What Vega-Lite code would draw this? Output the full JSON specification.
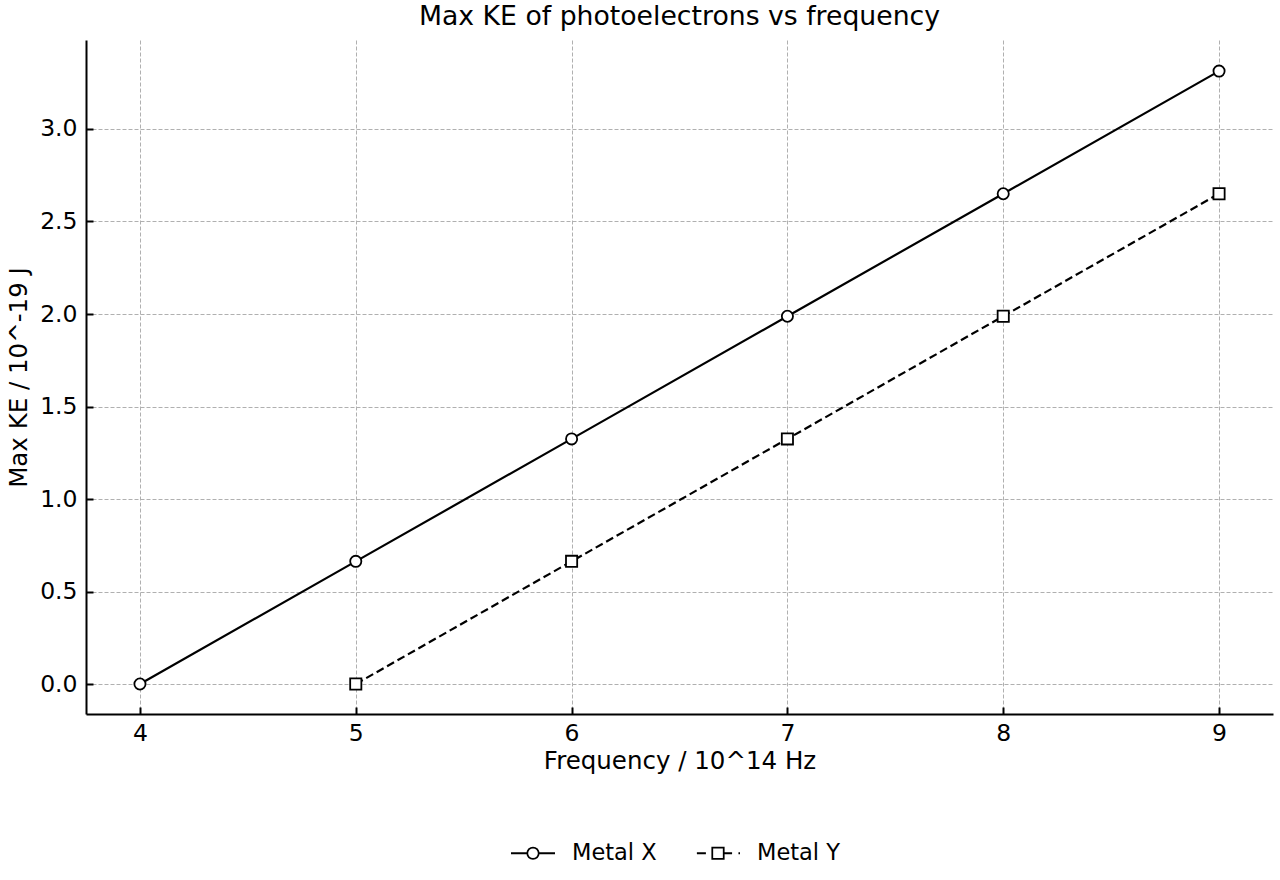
{
  "$schema": "https://vega.github.io/schema/vega-lite/v6.json",
  "width": 1187,
  "height": 674,
  "autosize": {"type": "none"},
  "padding": {"left": 86, "top": 40, "right": 7, "bottom": 166},
  "background": "white",
  "config": {
    "font": "DejaVu Sans",
    "view": {"stroke": null},
    "axis": {
      "labelFont": "DejaVu Sans",
      "titleFont": "DejaVu Sans",
      "labelFontSize": 23.5,
      "titleFontSize": 24.5,
      "labelColor": "black",
      "titleColor": "black",
      "titleFontWeight": "normal",
      "domainColor": "black",
      "domainWidth": 2,
      "tickColor": "black",
      "tickWidth": 2,
      "tickSize": -7,
      "gridColor": "#b0b0b0",
      "gridWidth": 1,
      "gridDash": [4, 2]
    },
    "legend": {"labelFont": "DejaVu Sans", "labelFontSize": 22.5, "labelColor": "black"},
    "title": {"font": "DejaVu Sans", "fontSize": 26.7, "fontWeight": "normal", "color": "black"}
  },
  "title": {"text": "Max KE of photoelectrons vs frequency", "anchor": "middle", "offset": 9},
  "data": {
    "values": [
      {"frequency": 4, "ke": 0.0, "metal": "Metal X"},
      {"frequency": 5, "ke": 0.663, "metal": "Metal X"},
      {"frequency": 6, "ke": 1.325, "metal": "Metal X"},
      {"frequency": 7, "ke": 1.988, "metal": "Metal X"},
      {"frequency": 8, "ke": 2.65, "metal": "Metal X"},
      {"frequency": 9, "ke": 3.313, "metal": "Metal X"},
      {"frequency": 5, "ke": 0.0, "metal": "Metal Y"},
      {"frequency": 6, "ke": 0.663, "metal": "Metal Y"},
      {"frequency": 7, "ke": 1.325, "metal": "Metal Y"},
      {"frequency": 8, "ke": 1.988, "metal": "Metal Y"},
      {"frequency": 9, "ke": 2.65, "metal": "Metal Y"}
    ]
  },
  "encoding": {
    "x": {
      "field": "frequency",
      "type": "quantitative",
      "scale": {"domain": [3.75, 9.25], "nice": false, "zero": false},
      "axis": {"title": "Frequency / 10^14 Hz", "values": [4, 5, 6, 7, 8, 9], "format": "d", "labelPadding": 14, "titlePadding": 5, "labelFlush": false}
    },
    "y": {
      "field": "ke",
      "type": "quantitative",
      "scale": {"domain": [-0.162, 3.481], "nice": false, "zero": false},
      "axis": {"title": "Max KE / 10^-19 J", "values": [0, 0.5, 1, 1.5, 2, 2.5, 3], "format": ".1f", "labelPadding": 16, "titlePadding": 8, "labelFlush": false}
    }
  },
  "layer": [
    {
      "transform": [{"filter": "datum.metal === 'Metal X'"}],
      "mark": {"type": "line", "color": "black", "strokeWidth": 2.2},
      "encoding": {}
    },
    {
      "transform": [{"filter": "datum.metal === 'Metal Y'"}],
      "mark": {"type": "line", "color": "black", "strokeWidth": 2.2, "strokeDash": [8, 4]},
      "encoding": {}
    },
    {
      "transform": [{"filter": "datum.metal === 'Metal X'"}],
      "mark": {"type": "point", "shape": "circle", "filled": true, "fill": "white", "stroke": "black", "strokeWidth": 1.8, "size": 125, "opacity": 1},
      "encoding": {}
    },
    {
      "transform": [{"filter": "datum.metal === 'Metal Y'"}],
      "mark": {"type": "point", "shape": "square", "filled": true, "fill": "white", "stroke": "black", "strokeWidth": 1.8, "size": 125, "opacity": 1},
      "encoding": {}
    },
    {
      "transform": [{"filter": "datum.metal === 'legend only'"}],
      "mark": {"type": "point", "filled": true, "fill": "black", "stroke": "black", "strokeWidth": 0, "opacity": 1},
      "encoding": {
        "shape": {
          "field": "metal",
          "type": "nominal",
          "scale": {
            "domain": ["Metal X", "Metal Y"],
            "range": [
              "M-1,-0.045H-0.29V0.045H-1Z M0.29,-0.045H1V0.045H0.29Z M0.3,0L0.2772,0.1148L0.2121,0.2121L0.1148,0.2772L0,0.3L-0.1148,0.2772L-0.2121,0.2121L-0.2772,0.1148L-0.3,0L-0.2772,-0.1148L-0.2121,-0.2121L-0.1148,-0.2772L0,-0.3L0.1148,-0.2772L0.2121,-0.2121L0.2772,-0.1148Z M0.22,0L0.2033,-0.0842L0.1556,-0.1556L0.0842,-0.2033L0,-0.22L-0.0842,-0.2033L-0.1556,-0.1556L-0.2033,-0.0842L-0.22,0L-0.2033,0.0842L-0.1556,0.1556L-0.0842,0.2033L0,0.22L0.0842,0.2033L0.1556,0.1556L0.2033,0.0842Z",
              "M-0.96,-0.045H-0.55V0.045H-0.96Z M-0.3,-0.3H0.3V0.3H-0.3Z M-0.22,-0.22V0.22H0.22V-0.22Z M0.3,-0.045H0.64V0.045H0.3Z M0.93,-0.045H1V0.045H0.93Z"
            ]
          },
          "legend": {
            "title": null,
            "orient": "none",
            "direction": "horizontal",
            "legendX": 425,
            "legendY": 791,
            "symbolSize": 1936,
            "symbolStrokeWidth": 0,
            "symbolFillColor": "black",
            "symbolOpacity": 1,
            "labelOffset": 17,
            "columnPadding": 39
          }
        }
      }
    }
  ]
}
